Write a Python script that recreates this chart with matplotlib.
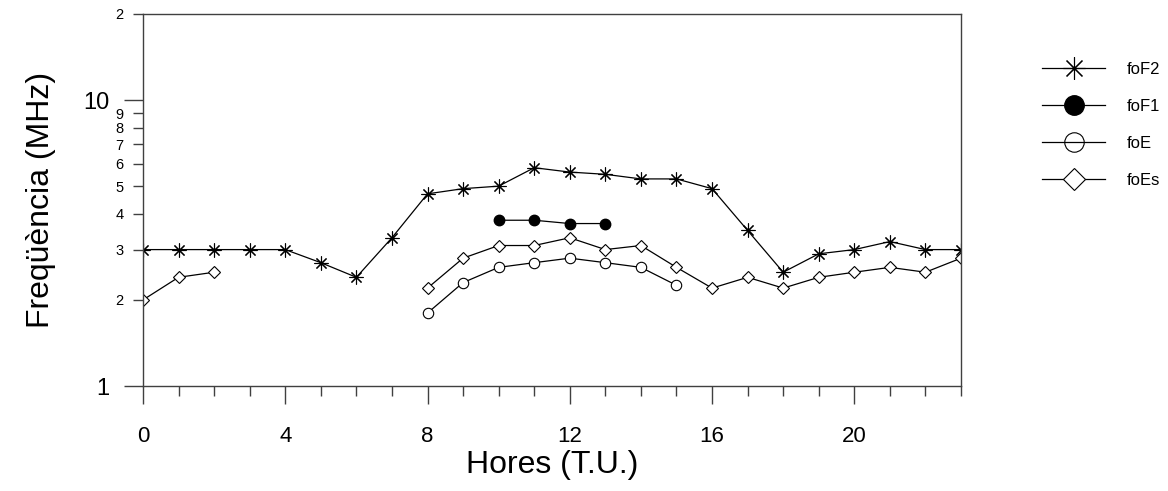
import matplotlib
matplotlib.use('Agg')
import matplotlib.pyplot as plt
from matplotlib.lines import Line2D
from matplotlib.ticker import FixedLocator, FixedFormatter, NullFormatter

plt.rcParams['font.family'] = ['Liberation Sans', 'DejaVu Sans']

# hours (T.U.)
horesF2 = list(range(0, 24))
foF2 = [3.0, 3.0, 3.0, 3.0, 3.0, 2.7, 2.4, 3.3, 4.7, 4.9, 5.0, 5.8,
        5.6, 5.5, 5.3, 5.3, 4.9, 3.5, 2.5, 2.9, 3.0, 3.2, 3.0, 3.0]

horesF1 = [10, 11, 12, 13]
foF1 = [3.8, 3.8, 3.7, 3.7]

horesE = [8, 9, 10, 11, 12, 13, 14, 15]
foE = [1.8, 2.3, 2.6, 2.7, 2.8, 2.7, 2.6, 2.25]

# foEs has a gap between 2 h and 8 h
horesEs = [0, 1, 2, None, 8, 9, 10, 11, 12, 13, 14, 15, 16, 17, 18, 19, 20, 21, 22, 23]
foEs = [2.0, 2.4, 2.5, None, 2.2, 2.8, 3.1, 3.1, 3.3, 3.0, 3.1, 2.6,
        2.2, 2.4, 2.2, 2.4, 2.5, 2.6, 2.5, 2.8]

yMajor = [1, 10]
yMajorLabels = ['1', '10']
yMinor = [2, 3, 4, 5, 6, 7, 8, 9, 20]
yMinorLabels = ['2', '3', '4', '5', '6', '7', '8', '9', '2']
xMajor = [0, 4, 8, 12, 16, 20]

fig = plt.figure(figsize=(11.68, 4.91), dpi=100)
ax = fig.add_axes([0.1224, 0.2138, 0.7004, 0.7577])

spineColor = '#404040'
for s in ax.spines.values():
    s.set_color(spineColor)
    s.set_linewidth(1.0)

ax.plot(horesF2, foF2, color='black', lw=0.9, marker=(8, 2, 0), ms=10, mew=0.8)
ax.plot(horesF1, foF1, color='black', lw=0.9, marker='o', ms=7.5, mfc='black')
ax.plot(horesE, foE, color='black', lw=0.9, marker='o', ms=7.5, mfc='white', mew=0.8)
esX = [h if h is not None else float('nan') for h in horesEs]
esY = [v if v is not None else float('nan') for v in foEs]
ax.plot(esX, esY, color='black', lw=0.9, marker='D', ms=6.2, mfc='white', mew=0.8)

ax.set_yscale('log')
ax.set_ylim(1, 20)
ax.set_xlim(0, 23)

ax.yaxis.set_major_locator(FixedLocator(yMajor))
ax.yaxis.set_major_formatter(FixedFormatter(yMajorLabels))
ax.yaxis.set_minor_locator(FixedLocator(yMinor))
ax.yaxis.set_minor_formatter(FixedFormatter(yMinorLabels))

ax.xaxis.set_major_locator(FixedLocator(xMajor))
ax.xaxis.set_minor_locator(FixedLocator(list(range(0, 24))))
ax.xaxis.set_minor_formatter(NullFormatter())

ax.tick_params(axis='y', which='major', length=14, width=1, color=spineColor,
               labelsize=17, pad=10)
ax.tick_params(axis='y', which='minor', length=7, width=1, color=spineColor,
               labelsize=10.5, pad=7)
ax.tick_params(axis='x', which='major', length=13, width=1, color=spineColor,
               labelsize=16, pad=16)
ax.tick_params(axis='x', which='minor', length=7, width=1, color=spineColor)

ax.set_xlabel('Hores (T.U.)', fontsize=23, labelpad=2)
ax.set_ylabel('Freqüència (MHz)', fontsize=23, labelpad=20)

handles = [
    Line2D([], [], color='black', lw=0.9, marker=(8, 2, 0), ms=16, mew=0.8),
    Line2D([], [], color='black', lw=0.9, marker='o', ms=14, mfc='black'),
    Line2D([], [], color='black', lw=0.9, marker='o', ms=14, mfc='none', mew=0.8),
    Line2D([], [], color='black', lw=0.9, marker='D', ms=11, mfc='white', mew=0.8),
]
fig.legend(handles, ['foF2', 'foF1', 'foE', 'foEs'], loc='upper left',
           bbox_to_anchor=(0.885, 0.891), frameon=False, fontsize=12,
           handlelength=3.8, handletextpad=1.3, labelspacing=1.32, borderpad=0)

fig.savefig('out.png', dpi=100)
